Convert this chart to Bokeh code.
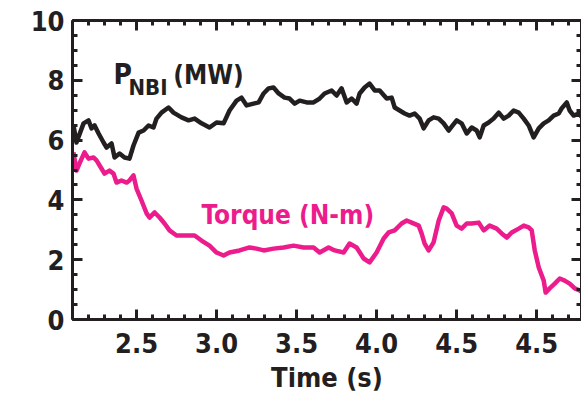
from bokeh.plotting import figure
from bokeh.models import Range1d, LinearAxis, SingleIntervalTicker
from bokeh.core.properties import value
from bokeh.embed import file_html
from bokeh.resources import INLINE

# Neutral-beam power (MW) versus time (s)
pnbi_t = [2.106, 2.125, 2.169, 2.200, 2.219, 2.238, 2.263, 2.294, 2.313, 2.344,
          2.363, 2.394, 2.425, 2.456, 2.481, 2.513, 2.544, 2.575, 2.606, 2.625,
          2.656, 2.700, 2.731, 2.781, 2.825, 2.863, 2.906, 2.956, 3.000, 3.044,
          3.081, 3.125, 3.156, 3.188, 3.231, 3.263, 3.294, 3.325, 3.356, 3.388,
          3.425, 3.456, 3.488, 3.519, 3.563, 3.606, 3.644, 3.675, 3.719, 3.750,
          3.781, 3.813, 3.844, 3.875, 3.894, 3.925, 3.956, 3.988, 4.019, 4.063,
          4.094, 4.113, 4.144, 4.175, 4.206, 4.238, 4.269, 4.294, 4.325, 4.356,
          4.388, 4.419, 4.450, 4.469, 4.500, 4.531, 4.563, 4.594, 4.625, 4.644,
          4.669, 4.700, 4.731, 4.763, 4.794, 4.825, 4.856, 4.888, 4.919, 4.950,
          4.981, 5.013, 5.044, 5.075, 5.106, 5.138, 5.156, 5.188, 5.206, 5.231,
          5.263, 5.290]
pnbi_mw = [6.49, 5.92, 6.56, 6.66, 6.39, 6.49, 6.22, 5.92, 5.75, 5.89,
           5.42, 5.55, 5.42, 5.38, 5.82, 6.25, 6.32, 6.49, 6.42, 6.72,
           6.92, 7.09, 6.92, 6.76, 6.66, 6.72, 6.56, 6.42, 6.59, 6.56,
           6.99, 7.32, 7.42, 7.16, 7.22, 7.26, 7.56, 7.73, 7.76, 7.56,
           7.42, 7.39, 7.22, 7.32, 7.26, 7.26, 7.39, 7.56, 7.66, 7.49,
           7.73, 7.26, 7.39, 7.22, 7.56, 7.76, 7.89, 7.66, 7.66, 7.39,
           7.42, 7.09, 6.99, 6.89, 6.82, 6.89, 6.72, 6.39, 6.66, 6.76,
           6.72, 6.56, 6.32, 6.45, 6.66, 6.56, 6.22, 6.42, 6.32, 6.09,
           6.49, 6.59, 6.72, 6.92, 6.72, 6.82, 6.99, 6.92, 6.72, 6.49,
           6.09, 6.39, 6.56, 6.66, 6.82, 6.89, 7.06, 7.26, 6.99, 6.82,
           6.89, 6.72]

# Torque (N-m) versus time (s)
torque_t = [2.106, 2.125, 2.144, 2.175, 2.200, 2.231, 2.250, 2.281, 2.300, 2.331,
            2.356, 2.375, 2.406, 2.438, 2.456, 2.481, 2.500, 2.531, 2.563, 2.581,
            2.613, 2.644, 2.675, 2.706, 2.750, 2.794, 2.831, 2.863, 2.906, 2.956,
            3.000, 3.044, 3.081, 3.144, 3.206, 3.250, 3.294, 3.356, 3.419, 3.481,
            3.544, 3.606, 3.644, 3.700, 3.738, 3.794, 3.831, 3.875, 3.919, 3.956,
            4.000, 4.044, 4.075, 4.113, 4.156, 4.188, 4.219, 4.263, 4.281, 4.300,
            4.325, 4.356, 4.388, 4.419, 4.438, 4.469, 4.500, 4.531, 4.563, 4.594,
            4.638, 4.669, 4.706, 4.750, 4.781, 4.813, 4.844, 4.888, 4.919, 4.950,
            4.969, 4.988, 5.013, 5.044, 5.056, 5.081, 5.113, 5.144, 5.175, 5.206,
            5.238, 5.269, 5.290]
torque_nm = [5.59, 4.98, 5.22, 5.59, 5.38, 5.42, 5.32, 5.05, 4.88, 4.98,
             4.88, 4.58, 4.65, 4.58, 4.65, 4.82, 4.38, 3.98, 3.55, 3.41,
             3.58, 3.41, 3.21, 2.98, 2.81, 2.81, 2.81, 2.81, 2.64, 2.47,
             2.24, 2.14, 2.24, 2.31, 2.41, 2.37, 2.31, 2.37, 2.41, 2.47,
             2.41, 2.41, 2.24, 2.41, 2.31, 2.24, 2.54, 2.41, 2.04, 1.91,
             2.24, 2.71, 2.91, 2.98, 3.21, 3.31, 3.24, 3.14, 2.88, 2.54,
             2.31, 2.58, 3.31, 3.75, 3.71, 3.55, 3.14, 3.04, 3.21, 3.21,
             3.24, 2.98, 3.14, 3.04, 2.88, 2.74, 2.91, 3.04, 3.14, 3.08,
             2.98, 2.31, 1.74, 1.30, 0.90, 1.04, 1.20, 1.37, 1.30, 1.20,
             1.04, 0.97, 0.90]

x_ticks = [2.5, 3.0, 3.5, 4.0, 4.5, 5.0]
x_tick_labels = ["2.5", "3.0", "3.5", "4.0", "4.5", "4.5"]

FONT = "DejaVu Sans Condensed, Noto Sans Condensed, Roboto Condensed, Liberation Sans"
INK = "#231f20"
PINK = "#ec1c8c"

p = figure(width=581, height=397, output_backend="svg", toolbar_location=None,
           x_range=Range1d(2.1, 5.28), y_range=Range1d(0, 10),
           min_border_left=72, min_border_right=0, min_border_top=20,
           min_border_bottom=78, outline_line_color=None,
           background_fill_color="white", border_fill_color="white")
p.xgrid.visible = False
p.ygrid.visible = False


def style_axis(ax, labelled):
    ax.axis_line_width = 3
    ax.axis_line_color = INK
    ax.major_tick_line_width = 3
    ax.minor_tick_line_width = 3
    ax.major_tick_line_color = INK
    ax.minor_tick_line_color = INK
    ax.major_tick_in = 10
    ax.major_tick_out = 0
    ax.minor_tick_in = 5
    ax.minor_tick_out = 0
    if labelled:
        ax.major_label_text_font = FONT
        ax.major_label_text_font_style = "bold"
        ax.major_label_text_font_size = "27px"
        ax.major_label_text_color = INK
    else:
        # tick marks only on the top and right edges
        ax.major_label_text_color = None
        ax.major_label_text_font_size = "1px"
        ax.major_label_standoff = 0


p.xaxis.ticker = SingleIntervalTicker(interval=0.5, num_minor_ticks=5)
p.yaxis.ticker = SingleIntervalTicker(interval=2, num_minor_ticks=4)
style_axis(p.xaxis[0], True)
style_axis(p.yaxis[0], True)
p.xaxis.major_label_overrides = {t: s for t, s in zip(x_ticks, x_tick_labels)}
p.xaxis.major_label_standoff = 13
p.yaxis.major_label_standoff = 8
p.xaxis.axis_label = "Time (s)"
p.xaxis.axis_label_text_font = FONT
p.xaxis.axis_label_text_font_style = "bold"
p.xaxis.axis_label_text_font_size = "27px"
p.xaxis.axis_label_text_color = INK
p.xaxis.axis_label_standoff = 6

top = LinearAxis(ticker=SingleIntervalTicker(interval=0.5, num_minor_ticks=5))
style_axis(top, False)
p.add_layout(top, "above")
right = LinearAxis(ticker=SingleIntervalTicker(interval=2, num_minor_ticks=4))
style_axis(right, False)
p.add_layout(right, "right")

p.line(pnbi_t, pnbi_mw, line_color=INK, line_width=4.5, line_join="round")
p.line(torque_t, torque_nm, line_color=PINK, line_width=4.5, line_join="round")

# series annotations
p.text(x=[2.356], y=[8.19], text=["P"], text_font=value(FONT), text_font_style="bold",
       text_font_size="28px", text_color=INK, text_baseline="alphabetic")
p.text(x=[2.45], y=[7.77], text=["NBI"], text_font=value(FONT), text_font_style="bold",
       text_font_size="22px", text_color=INK, text_baseline="alphabetic")
p.text(x=[2.73], y=[8.19], text=["(MW)"], text_font=value(FONT), text_font_style="bold",
       text_font_size="26px", text_color=INK, text_baseline="alphabetic")
p.text(x=[2.906], y=[3.51], text=["Torque (N-m)"], text_font=value(FONT),
       text_font_style="bold", text_font_size="26px", text_color=PINK,
       text_baseline="alphabetic")

open("out.html", "w").write(file_html(p, INLINE))
